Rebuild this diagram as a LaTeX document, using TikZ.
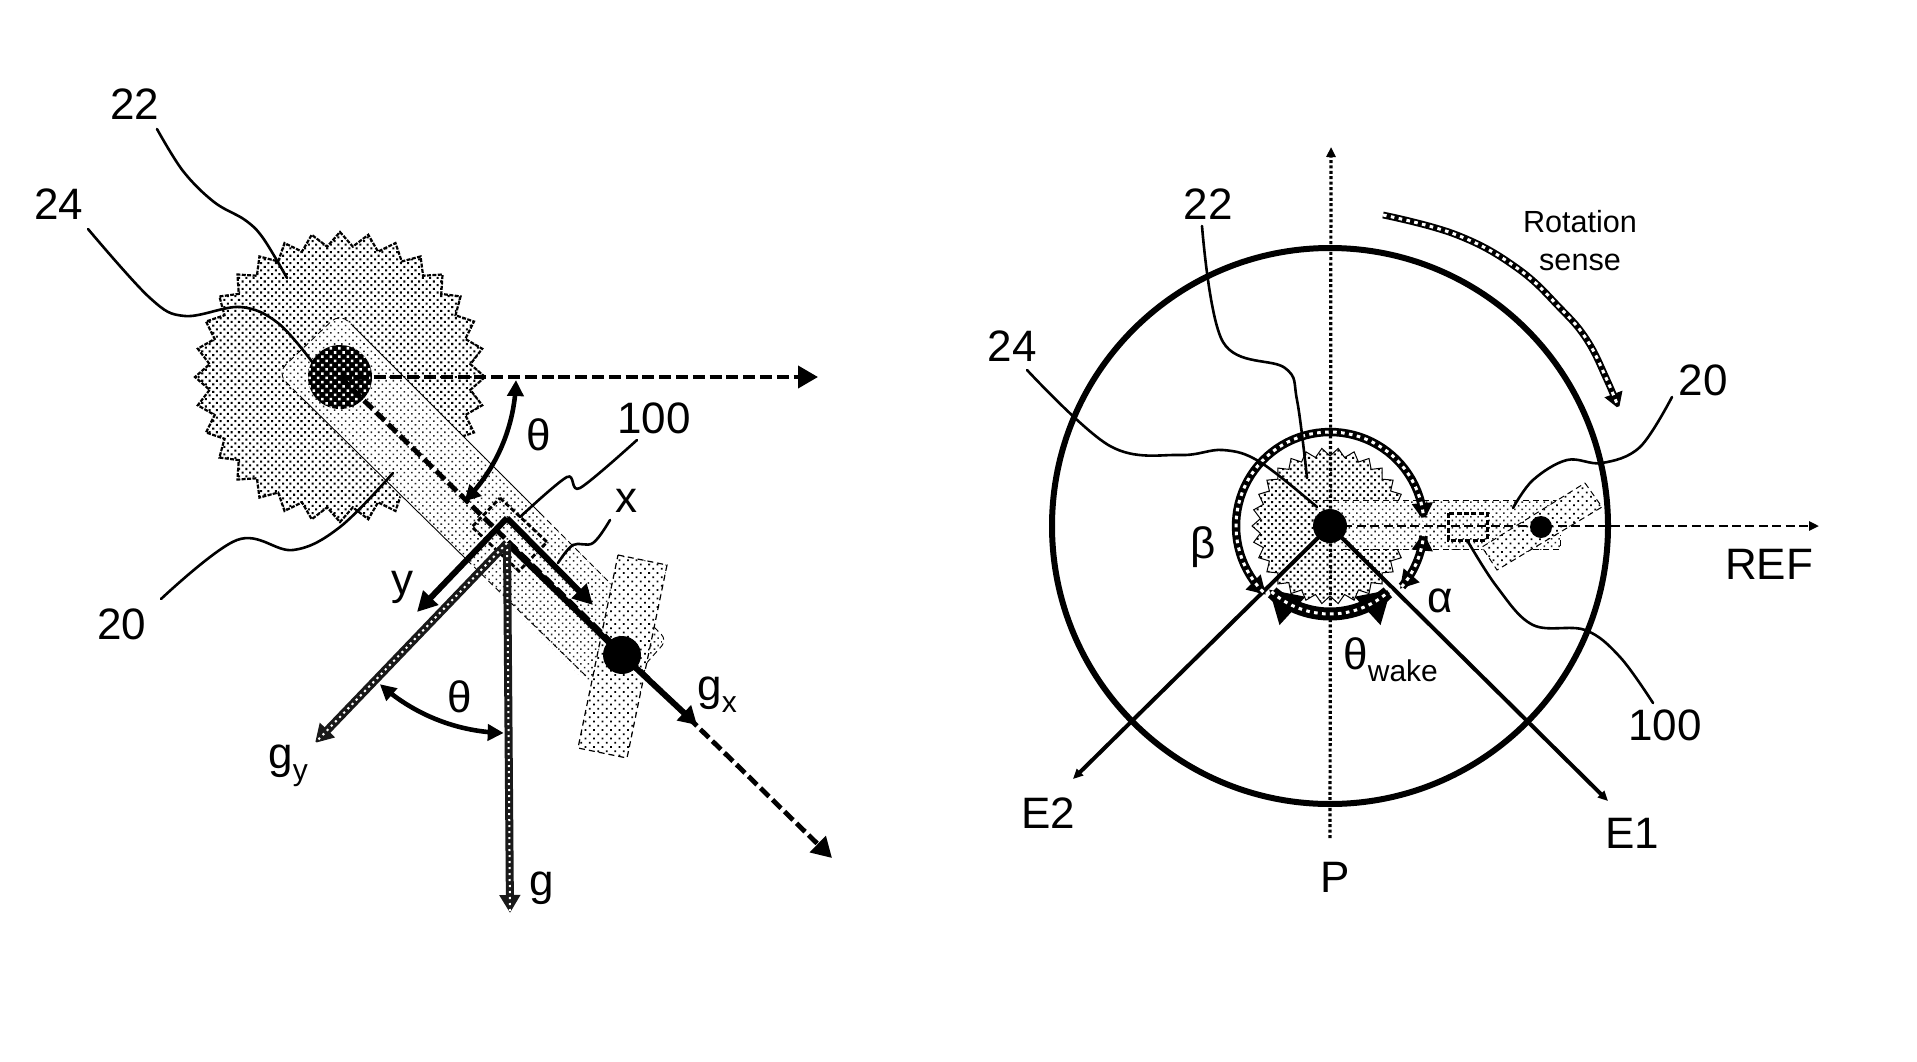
\documentclass[tikz,border=0pt]{standalone}
\usepackage{fontspec}
\setmainfont{Liberation Sans}
\usetikzlibrary{arrows.meta,patterns.meta,calc}
\tikzset{
  x=0.5pt,y=-0.5pt,
  lab/.style={inner sep=0pt,font=\fontsize{22}{24}\selectfont},
  smalllab/.style={inner sep=0pt,font=\fontsize{15.3}{17}\selectfont},
  leader/.style={draw=black,line width=1.3pt,line cap=round},
  geardots/.style={pattern={Dots[radius=0.72pt,distance=2.6pt,angle=45]},pattern color=black},
  armdots/.style={pattern={Dots[radius=0.55pt,distance=2.6pt,angle=45]},pattern color=black!85},
  rotordots/.style={pattern={Dots[radius=0.62pt,distance=3pt,angle=45]},pattern color=black},
  checkdots/.style={pattern={Dots[radius=0.9pt,distance=3pt,angle=45]},pattern color=white},
  thin outline/.style={draw=black,line width=0.45pt},
  gear outline/.style={draw=black,line width=1.1pt,dash pattern=on 2pt off 0.7pt},
  hatchline/.style={draw=black!90,postaction={draw=white,-,line width=1pt,dash pattern=on 1.1pt off 1.9pt}},
  checkline/.style={draw=black,postaction={draw=white,-,line width=1.5pt,dash pattern=on 1.8pt off 2.2pt}},
  dashedaxis/.style={draw=black,line width=2pt,dash pattern=on 6pt off 2.4pt},
  bigtip/.style={-{Triangle[length=10pt,width=11pt]}},
  thick axis/.style={draw=black,line width=3pt,-{Triangle[length=10pt,width=10pt]}},
  wiretip/.style={-{Triangle[length=5pt,width=4.5pt]}},
}
\begin{document}
\begin{tikzpicture}
\useasboundingbox (0,0) rectangle (1917,1061);
\fill[white] (0,0) rectangle (1917,1061);

%% ---------- LEFT FIGURE ----------
\coordinate (hubL) at (340,377);
\coordinate (dotL) at (622,655);
\coordinate (cornerXY) at (507,518);
\coordinate (cornerG) at (507,543);
% gear
\path[geardots] plot[domain=0:360,samples=65] ({340+(138+7*cos(32*\x))*cos(\x)},{377+(138+7*cos(32*\x))*sin(\x)}) -- cycle;
\draw[gear outline] plot[domain=0:360,samples=65] ({340+(138+7*cos(32*\x))*cos(\x)},{377+(138+7*cos(32*\x))*sin(\x)}) -- cycle;
% arm
\fill[white,rounded corners=6pt] (277,373) -- (340,313) -- (667,640) -- (643,667) -- (587,683) -- cycle;
\path[armdots,rounded corners=6pt] (277,373) -- (340,313) -- (667,640) -- (643,667) -- (587,683) -- cycle;
\draw[thin outline,densely dashed,rounded corners=6pt] (355,328) -- (340,313) -- (277,373) -- (300,396);
\draw[thin outline] (355,328) -- (540,513) (300,396) -- (467,560);
\draw[thin outline,densely dashed] (540,513) -- (640,613) (467,560) -- (587,677);
\draw[thin outline,densely dashed,rounded corners=4pt] (640,613) -- (667,640) -- (643,667);
% rotor
\coordinate (rA) at (618,555); \coordinate (rB) at (667,565);
\coordinate (rC) at (627,758); \coordinate (rD) at (578,748);
\fill[white] (rA) -- (rB) -- (rC) -- (rD) -- cycle;
\path[rotordots] (rA) -- (rB) -- (rC) -- (rD) -- cycle;
\draw[black,line width=0.6pt,densely dashed] (rA) -- (rB) -- (rC) -- (rD) -- cycle;
% sensor
\draw[black,line width=1.4pt,dash pattern=on 2.5pt off 1.2pt] (500,498) -- (547,542) -- (519,571) -- (472,527) -- cycle;
% hub
\fill[black] (hubL) circle[radius=32];
\path[checkdots] (hubL) circle[radius=32];
% dashed axes
\coordinate (tipR) at (818,377);
\coordinate (tipD) at (832,858);
\draw[dashedaxis,bigtip] (hubL) -- (tipR);
\draw[dashedaxis,line width=2.4pt,bigtip] (hubL) -- (tipD);
\draw[black,line width=3pt] (cornerG) -- (dotL);
\fill[black] (dotL) circle[radius=19];
% theta arcs
\draw[black,line width=2.3pt,{Triangle[length=8pt,width=8pt]}-{Triangle[length=8pt,width=8pt]}]
  plot[domain=1:45,samples=30] ({340+176*cos(\x)},{377+176*sin(\x)});
\draw[black,line width=2.3pt,{Triangle[length=8pt,width=8pt]}-{Triangle[length=8pt,width=8pt]}]
  plot[domain=132:91,samples=30] ({507+190*cos(\x)},{543+190*sin(\x)});
% axes
\coordinate (xTip) at (593,605);
\coordinate (yTip) at (417,612);
\draw[thick axis] (cornerXY) -- (xTip);
\draw[thick axis] (cornerXY) -- (yTip);
% gravity vectors
\coordinate (gTip) at (510,913);
\coordinate (gyTip) at (315,743);
\coordinate (gxTip) at (697,725);
\draw[hatchline,line width=4pt,-{Triangle[length=9pt,width=10pt]}] (cornerG) -- (gTip);
\draw[hatchline,line width=4pt,-{Triangle[length=9pt,width=10pt]}] (cornerG) -- (gyTip);
\draw[black,line width=3pt,-{Triangle[length=9pt,width=10pt]}] (dotL) -- (gxTip);
% labels
\node[lab] (l22) at (135,104) {22};
\node[lab] (l24) at (59,204) {24};
\node[lab] (l20) at (122,624) {20};
\node[lab] (l100) at (654,418) {100};
\node[lab] (lx) at (626,501) {x};
\node[lab] (ly) at (402,587) {y};
\node[lab] (lth1) at (539,435) {θ};
\node[lab] (lth2) at (460,697) {θ};
\node[lab,anchor=base west] (lgx) at (697,700) {g\raisebox{-0.28em}{\fontsize{15}{16}\selectfont x}};
\node[lab,anchor=base west] (lgy) at (268,768) {g\raisebox{-0.28em}{\fontsize{15}{16}\selectfont y}};
\node[lab] (lg) at (542,888) {g};
% leaders
\coordinate (a22s) at (157,129); \coordinate (a22e) at (287,278);
\draw[leader] plot[smooth,tension=.6] coordinates {(a22s) (183,171) (214,202) (245,220) (263,238) (a22e)};
\coordinate (a24s) at (88,229); \coordinate (a24e) at (313,363);
\draw[leader] plot[smooth,tension=.6] coordinates {(a24s) (150,298) (185,316) (240,307) (278,323) (a24e)};
\coordinate (a20s) at (161,599); \coordinate (a20e) at (393,473);
\draw[leader] plot[smooth,tension=.6] coordinates {(a20s) (237,540) (293,550) (340,527) (a20e)};
\coordinate (a100s) at (520,517); \coordinate (a100e) at (637,440);
\draw[leader] plot[smooth,tension=.5] coordinates {(a100s) (567,477) (580,488) (a100e)};
\coordinate (axs) at (558,563); \coordinate (axe) at (610,520);
\draw[leader] plot[smooth,tension=.6] coordinates {(axs) (573,545) (593,543) (axe)};

%% ---------- RIGHT FIGURE ----------
\coordinate (hubR) at (1330,526);
\coordinate (dotR) at (1541,527);
% gear
\path[geardots] plot[domain=0:360,samples=61] ({1330+(74+4*cos(30*\x))*cos(\x)},{526+(74+4*cos(30*\x))*sin(\x)}) -- cycle;
\draw[black,line width=0.5pt] plot[domain=0:360,samples=61] ({1330+(74+4*cos(30*\x))*cos(\x)},{526+(74+4*cos(30*\x))*sin(\x)}) -- cycle;
% arm
\fill[white] (1330,500) rectangle (1560,549);
\path[armdots] (1330,500) rectangle (1560,549);
\draw[black,line width=0.5pt,densely dashed] (1313,500) -- (1560,500) (1343,549) -- (1560,549) -- (1560,535);
% rotor
\coordinate (qA) at (1585,483); \coordinate (qB) at (1602,507);
\coordinate (qC) at (1497,570); \coordinate (qD) at (1482,547);
\fill[white] (qA) -- (qB) -- (qC) -- (qD) -- cycle;
\path[rotordots] (qA) -- (qB) -- (qC) -- (qD) -- cycle;
\draw[black,line width=0.5pt,densely dashed] (qA) -- (qB) -- (qC) -- (qD) -- cycle;
% vertical and horizontal reference lines
\coordinate (vTop) at (1331,147); \coordinate (vBot) at (1330,838);
\draw[black,line width=1.6pt,dash pattern=on 1.5pt off 1.2pt,-{Triangle[length=5pt,width=4.5pt]}] (vBot) -- (vTop);
\coordinate (refTip) at (1819,526);
\draw[black,line width=1.3pt,dash pattern=on 4.5pt off 2.2pt,-{Triangle[length=5pt,width=4.5pt]}] (hubR) -- (refTip);
% sensor
\draw[black,line width=1.5pt,dash pattern=on 2.5pt off 1.2pt] (1448,513) rectangle (1487,540);
% big circle
\draw[black,line width=3pt] (hubR) circle[radius=278];
% E lines
\coordinate (e1Tip) at (1608,801); \coordinate (e2Tip) at (1073,779);
\draw[black,line width=2pt,wiretip] (hubR) -- (e1Tip);
\draw[black,line width=2pt,wiretip] (hubR) -- (e2Tip);
% angle arcs
\draw[checkline,line width=4.2pt,{Triangle[length=9pt,width=10pt]}-{Triangle[length=9pt,width=10pt]}]
  plot[domain=-3:-227,samples=60] ({1330+94*cos(\x)},{526+94*sin(\x)});
\draw[checkline,line width=4.2pt,{Triangle[length=9pt,width=10pt]}-{Triangle[length=9pt,width=10pt]}]
  plot[domain=4:42,samples=20] ({1330+94*cos(\x)},{526+94*sin(\x)});
\draw[checkline,line width=6.5pt,{Triangle[length=16pt,width=18pt]}-{Triangle[length=16pt,width=18pt]}]
  plot[domain=46:134,samples=30] ({1330+88*cos(\x)},{526+88*sin(\x)});
\fill[black] (hubR) circle[radius=17];
\fill[black] (dotR) circle[radius=11];
% rotation arrow
\coordinate (rotS) at (1383,215); \coordinate (rotE) at (1619,409);
\draw[checkline,line width=3.4pt,-{Triangle[length=8pt,width=9pt]}]
  plot[smooth,tension=.7] coordinates {(rotS) (1457,235) (1517,268) (1560,308) (1587,340) (1607,380) (rotE)};
% labels
\node[lab] (r22) at (1208,204) {22};
\node[lab] (r24) at (1012,346) {24};
\node[lab] (rb) at (1203,547) {β};
\node[lab] (ra) at (1440,601) {α};
\node[lab,anchor=base west] (rw) at (1343,669) {θ\raisebox{-0.28em}{\fontsize{15}{16}\selectfont wake}};
\node[lab] (rREF) at (1769,564) {REF};
\node[lab] (rE1) at (1632,833) {E1};
\node[lab] (rE2) at (1048,813) {E2};
\node[lab] (rP) at (1335,877) {P};
\node[lab] (r20) at (1703,380) {20};
\node[lab] (r100) at (1665,725) {100};
\node[smalllab] (rRot) at (1580,222) {Rotation};
\node[smalllab] (rSen) at (1580,262) {sense};
% leaders
\coordinate (b22s) at (1202,226); \coordinate (b22e) at (1307,478);
\draw[leader] plot[smooth,tension=.6] coordinates {(b22s) (1223,342) (1285,368) (1297,400) (b22e)};
\coordinate (b24s) at (1027,370); \coordinate (b24e) at (1317,507);
\draw[leader] plot[smooth,tension=.6] coordinates {(b24s) (1110,446) (1180,455) (1223,450) (1260,462) (b24e)};
\coordinate (b20s) at (1672,397); \coordinate (b20e) at (1513,508);
\draw[leader] plot[smooth,tension=.6] coordinates {(b20s) (1640,447) (1602,463) (1567,460) (1533,480) (b20e)};
\coordinate (b100s) at (1467,540); \coordinate (b100e) at (1653,703);
\draw[leader] plot[smooth,tension=.6] coordinates {(b100s) (1497,587) (1533,625) (1585,630) (1620,657) (b100e)};
\end{tikzpicture}
\end{document}
